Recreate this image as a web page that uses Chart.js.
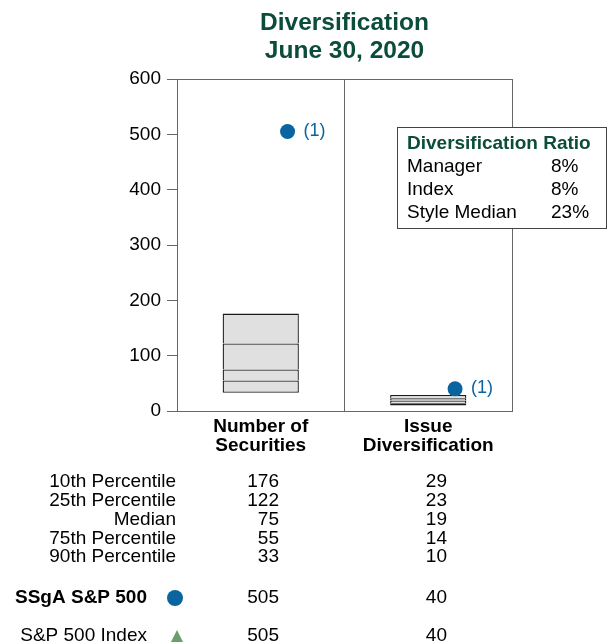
<!DOCTYPE html>
<html>
<head>
<meta charset="utf-8">
<script src="https://cdn.jsdelivr.net/npm/chart.js@4"></script>
<style>
html,body{margin:0;padding:0;background:#fff;}
#wrap{width:613px;height:644px;position:relative;}
</style>
</head>
<body>
<div id="wrap"><canvas id="c" width="613" height="644"></canvas></div>
<script>
// ---- data ----
const titleLines = ['Diversification', 'June 30, 2020'];
const categories = [['Number of', 'Securities'], ['Issue', 'Diversification']];
const percentileLabels = ['10th Percentile', '25th Percentile', 'Median', '75th Percentile', '90th Percentile'];
const p10 = [176, 29];
const p25 = [122, 23];
const median = [75, 19];
const p75 = [55, 14];
const p90 = [33, 10];
const managerName = 'SSgA S&P 500';
const indexName = 'S&P 500 Index';
const manager = [505, 40];
const benchmark = [505, 40];
const pointNote = '(1)';
const ratioTitle = 'Diversification Ratio';
const ratioLabels = ['Manager', 'Index', 'Style Median'];
const ratioValues = ['8%', '8%', '23%'];
const yMin = 0, yMax = 600, yStep = 100;

// ---- style ----
const FONT = '"Liberation Sans", Arial, Helvetica, sans-serif';
const GREEN_DARK = '#0b4c3b';
const BLUE = '#0a64a0';
const TRI_GREEN = '#6a9e6a';
const DOT_SHIFT = 0.16; // horizontal shift of markers within category slot

const segs = [[p90, p75], [p75, median], [median, p25], [p25, p10]];
const barDatasets = segs.map(([lo, hi], k) => ({
  type: 'bar',
  label: 'seg' + k,
  data: lo.map((v, i) => [v, hi[i]]),
  backgroundColor: '#e0e0e0',
  borderColor: '#1a1a1a',
  borderWidth: { top: 1.3, left: 1.3, right: 1.3, bottom: k === 0 ? 1.3 : 0 },
  borderSkipped: false,
  grouped: false,
  barPercentage: 0.455,
  categoryPercentage: 1,
  order: 3
}));

const framePlugin = {
  id: 'extras',
  afterDatasetsDraw(chart) {
    const ctx = chart.ctx;
    const a = chart.chartArea;
    const xs = chart.scales.x2, ys = chart.scales.y;
    ctx.save();
    // frame
    ctx.strokeStyle = '#666';
    ctx.lineWidth = 1;
    ctx.beginPath();
    ctx.moveTo(Math.round(a.left) + 0.5, Math.round(a.top) + 0.5);
    ctx.lineTo(Math.round(a.right) + 0.5, Math.round(a.top) + 0.5);
    ctx.lineTo(Math.round(a.right) + 0.5, Math.round(a.bottom) + 0.5);
    ctx.stroke();
    // notes
    ctx.fillStyle = BLUE;
    ctx.font = '18px ' + FONT;
    ctx.textBaseline = 'middle';
    ctx.textAlign = 'left';
    manager.forEach((v, i) => {
      ctx.fillText(pointNote, xs.getPixelForValue(i + DOT_SHIFT) + 16, ys.getPixelForValue(v) - 1);
    });
    // ratio box
    const bx = 397.5, by = 127.5, bw = 209, bh = 101;
    ctx.fillStyle = '#fff';
    ctx.fillRect(bx, by, bw, bh);
    ctx.strokeStyle = '#444';
    ctx.strokeRect(bx, by, bw, bh);
    ctx.fillStyle = GREEN_DARK;
    ctx.font = 'bold 19px ' + FONT;
    ctx.fillText(ratioTitle, 407, 144);
    ctx.fillStyle = '#000';
    ctx.font = '19px ' + FONT;
    ratioLabels.forEach((l, i) => {
      ctx.fillText(l, 407, 167 + i * 23);
      ctx.fillText(ratioValues[i], 551, 167 + i * 23);
    });
    ctx.restore();
  },
  afterDraw(chart) {
    const ctx = chart.ctx;
    const a = chart.chartArea;
    ctx.save();
    // title
    ctx.fillStyle = GREEN_DARK;
    ctx.font = 'bold 24.5px ' + FONT;
    ctx.textAlign = 'center';
    ctx.textBaseline = 'middle';
    const cx = (a.left + a.right) / 2;
    titleLines.forEach((t, i) => ctx.fillText(t, cx, 23 + i * 28));
    // table
    const colLabel = 176, col1 = 279, col2 = 447;
    const rows = [p10, p25, median, p75, p90];
    ctx.font = '19px ' + FONT;
    ctx.fillStyle = '#000';
    ctx.textAlign = 'right';
    rows.forEach((r, i) => {
      const y = 482 + i * 18.8;
      ctx.fillText(percentileLabels[i], colLabel, y);
      ctx.fillText(String(r[0]), col1, y);
      ctx.fillText(String(r[1]), col2, y);
    });
    // manager row
    let y = 598;
    ctx.font = 'bold 19px ' + FONT;
    ctx.fillText(managerName, 147, y);
    ctx.font = '19px ' + FONT;
    ctx.fillText(String(manager[0]), col1, y);
    ctx.fillText(String(manager[1]), col2, y);
    ctx.fillStyle = BLUE;
    ctx.beginPath();
    ctx.arc(175, y, 8, 0, Math.PI * 2);
    ctx.fill();
    // index row
    y = 636;
    ctx.fillStyle = '#000';
    ctx.fillText(indexName, 147, y);
    ctx.fillText(String(benchmark[0]), col1, y);
    ctx.fillText(String(benchmark[1]), col2, y);
    ctx.fillStyle = TRI_GREEN;
    ctx.beginPath();
    ctx.moveTo(177, y - 6);
    ctx.lineTo(183, y + 6);
    ctx.lineTo(171, y + 6);
    ctx.closePath();
    ctx.fill();
    ctx.restore();
  }
};

new Chart(document.getElementById('c'), {
  data: {
    labels: categories,
    datasets: [
      ...barDatasets,
      {
        type: 'scatter',
        label: indexName,
        xAxisID: 'x2',
        data: benchmark.map((v, i) => ({ x: i + DOT_SHIFT, y: v })),
        pointStyle: 'triangle',
        pointRadius: 7,
        backgroundColor: TRI_GREEN,
        borderColor: TRI_GREEN,
        order: 2
      },
      {
        type: 'scatter',
        label: managerName,
        xAxisID: 'x2',
        data: manager.map((v, i) => ({ x: i + DOT_SHIFT, y: v })),
        pointStyle: 'circle',
        pointRadius: 7.5,
        backgroundColor: BLUE,
        borderColor: BLUE,
        borderWidth: 0,
        order: 1
      }
    ]
  },
  options: {
    responsive: false,
    animation: false,
    events: [],
    layout: { padding: { left: 117, right: 101, top: 79, bottom: 183 } },
    plugins: { legend: { display: false }, title: { display: false }, tooltip: { enabled: false } },
    scales: {
      x: {
        type: 'category',
        offset: true,
        grid: { offset: true, color: '#666', drawTicks: false, lineWidth: 1 },
        border: { display: true, color: '#666' },
        ticks: {
          color: '#000',
          font: { family: FONT, size: 19, weight: 'bold', lineHeight: 1.0 },
          padding: 6,
          maxRotation: 0, autoSkip: false
        },
        afterFit(s) { s.height = 50; }
      },
      x2: { type: 'linear', min: -0.5, max: 1.5, display: false },
      y: {
        min: yMin, max: yMax,
        ticks: { stepSize: yStep, color: '#000', font: { family: FONT, size: 19 }, padding: 6 },
        grid: { drawOnChartArea: false, tickLength: 10, color: '#666' },
        border: { display: true, color: '#666' },
        afterFit(s) { s.width = 60; }
      }
    }
  },
  plugins: [framePlugin]
});
</script>
</body>
</html>
